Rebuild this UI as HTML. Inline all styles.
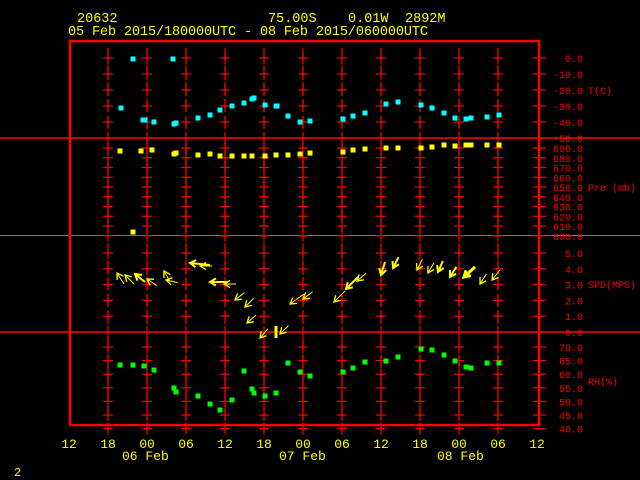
<!DOCTYPE html>
<html><head><meta charset="utf-8"><style>
html,body{margin:0;padding:0;background:#000;width:640px;height:480px;overflow:hidden}
svg{display:block}
text{font-family:"Liberation Mono",monospace}
</style></head><body>
<svg id="s" width="640" height="480" xmlns="http://www.w3.org/2000/svg">
<text x="77" y="22" fill="#ff0" font-size="13.5">20632</text>
<text x="268" y="22" fill="#ff0" font-size="13.5">75.00S</text>
<text x="348" y="22" fill="#ff0" font-size="13.5">0.01W</text>
<text x="405" y="22" fill="#ff0" font-size="13.5">2892M</text>
<text x="68" y="35" fill="#ff0" font-size="13.5" textLength="360">05 Feb 2015/180000UTC - 08 Feb 2015/060000UTC</text>
<g id="g"></g>
<text x="122" y="460" fill="#ff0" font-size="13">06 Feb</text>
<text x="279" y="460" fill="#ff0" font-size="13">07 Feb</text>
<text x="437" y="460" fill="#ff0" font-size="13">08 Feb</text>
<text x="14" y="476" fill="#ff0" font-size="12">2</text>
</svg>
<script>
var g=document.getElementById('g'),h='';
function L(x1,y1,x2,y2,c,w,extra){h+='<line x1="'+x1+'" y1="'+y1+'" x2="'+x2+'" y2="'+y2+'" stroke="'+c+'" stroke-width="'+(w||1)+'" '+(extra||'')+'/>';}
function T(x,y,t,c,s,a){h+='<text x="'+x+'" y="'+y+'" fill="'+c+'" font-size="'+s+'"'+(a?' text-anchor="'+a+'"':'')+'>'+t+'</text>';}
var R='#f00';
L(0,138,640,138,R,1.5);L(0,235.5,640,235.5,'#777',1);L(0,332,640,332,R,1.5);
var xs=[];for(var i=0;i<11;i++)xs.push(108+i*39);
var panels=[[48,134],[142,232],[243,328],[338,424]];
xs.forEach(function(x){panels.forEach(function(p){L(x,p[0],x,p[1],R,1.2,'stroke-dasharray="13 4"');});});
var ticks=[];
var tl=['0.0','-10.0','-20.0','-30.0','-40.0','-50.0'];for(i=0;i<6;i++)ticks.push([58+i*16,tl[i]]);
for(i=0;i<10;i++)ticks.push([148+i*9.75,(690-i*10)+'.0']);
for(i=0;i<6;i++)ticks.push([253+i*15.8,(5-i)+'.0']);
for(i=0;i<7;i++)ticks.push([347+i*13.6,(70-i*5)+'.0']);
ticks.forEach(function(t){var y=t[0];
 xs.forEach(function(x){L(x-5,y,x+5,y,R,1.2);L(x,y-6,x,y+6,R,1.2);});
 L(533,y,546,y,R,1.2);T(583,y+4,t[1],R,10,'end');});
h+='<rect x="70" y="41" width="469" height="384" fill="none" stroke="#f00" stroke-width="2.5"/>';
T(588,94,'T(C)',R,10);T(588,191,'Pre (mb)',R,10);T(588,288,'SPD(MPS)',R,10);T(588,385,'RH(%)',R,10);
var xl=['12','18','00','06','12','18','00','06','12','18','00','06','12'];
xl.forEach(function(l,k){T(69+k*39,448,l,'#ff0',13,'middle');});
function P(pts,c){pts.forEach(function(p){h+='<rect x="'+(p[0]-2.5)+'" y="'+(p[1]-2.5)+'" width="5" height="5" fill="'+c+'"/>';});}
P([[133,59],[173,59],[121,108],[143,120],[145,120],[154,122],[174,124],[176,123],[198,118],[210,115],[220,110],[232,106],[244,103],[252,99],[254,98],[265,105],[276,106],[277,106],[288,116],[300,122],[310,121],[343,119],[353,116],[365,113],[386,104],[398,102],[421,105],[432,108],[444,113],[455,118],[466,119],[471,118],[487,117],[499,115]],'#0ff');
P([[120,151],[141,151],[152,150],[174,154],[176,153],[198,155],[210,154],[220,156],[232,156],[244,156],[252,156],[265,156],[276,155],[288,155],[300,154],[310,153],[343,152],[353,150],[365,149],[386,148],[398,148],[421,148],[432,147],[444,145],[455,146],[466,145],[471,145],[487,145],[499,145],[133,232]],'#ff0');
P([[120,365],[133,365],[144,366],[154,370],[174,388],[176,392],[198,396],[210,404],[220,410],[232,400],[244,371],[252,389],[254,393],[265,396],[276,393],[288,363],[300,372],[310,376],[343,372],[353,368],[365,362],[386,361],[398,357],[421,349],[432,350],[444,355],[455,361],[466,367],[471,368],[487,363],[499,363]],'#0f0');
var A=[[117,273,7,11,1],[125,275,9,9,1],[135,274,10,8,2],[147,279,6,4,1],[164,271,5,9,1],[166,280,9,2,1],[190,263,20,2,2],[200,266,10,0,1],[210,282,18,0,2],[224,284,10,0,1],[235,300,9,-7,1],[245,307,6,-6,1],[247,323,9,-8,1],[260,338,5,-6,1],[280,334,7,-7,1],[290,304,14,-10,1],[303,299,8,-6,1],[334,302,11,-11,1],[346,289,12,-12,2],[357,281,7,-6,1],[381,275,4,-13,2],[393,268,4,-8,2],[417,270,5,-10,1],[428,273,4,-7,1],[438,272,4,-9,2],[450,277,5,-8,2],[464,277,11,-10,3],[480,284,5,-8,1],[492,280,8,-10,1]];
A.forEach(function(a){
 var dx=a[2],dy=a[3],len=Math.sqrt(dx*dx+dy*dy),s=Math.max(len,12)/len;dx*=s;dy*=s;len=len*s;
 var ux=-dx/len,uy=-dy/len; // direction tail->head
 var hx=a[0],hy=a[1],hl=6;
 var px=-uy,py=ux;
 var b1x=hx-ux*hl+px*hl*0.6,b1y=hy-uy*hl+py*hl*0.6,b2x=hx-ux*hl-px*hl*0.6,b2y=hy-uy*hl-py*hl*0.6;
 L((hx+dx).toFixed(1),(hy+dy).toFixed(1),hx,hy,'#ff0',a[4]);
 h+='<polyline points="'+b1x.toFixed(1)+','+b1y.toFixed(1)+' '+hx+','+hy+' '+b2x.toFixed(1)+','+b2y.toFixed(1)+'" fill="none" stroke="#ff0" stroke-width="'+Math.max(1.3,a[4])+'"/>';
});
L(276,326,276,338,'#ff0',3);
g.innerHTML=h;
</script>
</body></html>
